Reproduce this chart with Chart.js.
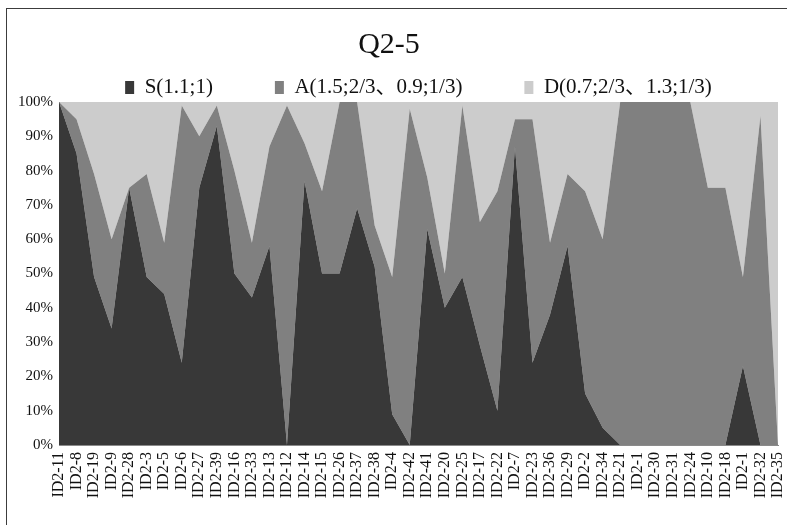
<!DOCTYPE html>
<html>
<head>
<meta charset="utf-8">
<title>Q2-5</title>
<script src="https://cdn.jsdelivr.net/npm/chart.js@4.4.1/dist/chart.umd.min.js"></script>
<style>
  body { margin: 0; background: #fff; }
  canvas { display: block; }
</style>
</head>
<body>
<canvas id="chart" width="787" height="525"></canvas>
<script>
const categories = ['ID2-11', 'ID2-8', 'ID2-19', 'ID2-9', 'ID2-28', 'ID2-3', 'ID2-5', 'ID2-6', 'ID2-27', 'ID2-39',
    'ID2-16', 'ID2-33', 'ID2-13', 'ID2-12', 'ID2-14', 'ID2-15', 'ID2-26', 'ID2-37', 'ID2-38', 'ID2-4',
    'ID2-42', 'ID2-41', 'ID2-20', 'ID2-25', 'ID2-17', 'ID2-22', 'ID2-7', 'ID2-23', 'ID2-36', 'ID2-29',
    'ID2-2', 'ID2-34', 'ID2-21', 'ID2-1', 'ID2-30', 'ID2-31', 'ID2-24', 'ID2-10', 'ID2-18', 'ID2-1',
    'ID2-32', 'ID2-35'];

// share of each answer type per respondent (%)
const sShare = [100, 85, 49, 34, 75, 49, 44, 24, 75, 93,
    50, 43, 58, 0, 77, 50, 50, 69, 52, 9,
    0, 63, 40, 49, 29, 10, 87, 24, 38, 58,
    15, 5, 0, 0, 0, 0, 0, 0, 0, 23,
    0, 0];
const aShare = [0, 10, 30, 26, 0, 30, 15, 75, 15, 6,
    30, 16, 29, 99, 11, 24, 50, 31, 12, 40,
    98, 15, 10, 50, 36, 64, 8, 71, 21, 21,
    59, 55, 100, 100, 100, 100, 100, 75, 75, 26,
    96, 0];
const dShare = [0, 5, 21, 40, 25, 21, 41, 1, 10, 1,
    20, 41, 13, 1, 12, 26, 0, 0, 36, 51,
    2, 22, 50, 1, 35, 26, 5, 5, 41, 21,
    26, 40, 0, 0, 0, 0, 0, 25, 25, 51,
    4, 100];

const seriesNames = ['S(1.1;1)', 'A(1.5;2/3、0.9;1/3)', 'D(0.7;2/3、1.3;1/3)'];
const yTicks = [0, 10, 20, 30, 40, 50, 60, 70, 80, 90, 100];

const serif = "'Liberation Serif', 'Noto Sans CJK JP', serif";
const axisGray = '#8a8a8a';

// thin frame round the whole chart
const framePlugin = {
    id: 'frame',
    beforeDraw(chart) {
        const c = chart.ctx;
        c.save();
        c.fillStyle = '#ffffff';
        c.fillRect(0, 0, chart.width, chart.height);
        c.strokeStyle = '#3c3c3c';
        c.lineWidth = 1;
        c.strokeRect(6.5, 8.5, chart.width + 20, chart.height + 20);
        c.restore();
    }
};

function area(label, data, color, fill) {
    return {
        label: label,
        data: data,
        backgroundColor: color,
        borderColor: color,
        borderWidth: 0,
        pointRadius: 0,
        pointHoverRadius: 0,
        tension: 0,
        fill: fill
    };
}

new Chart(document.getElementById('chart'), {
    type: 'line',
    data: {
        labels: categories,
        datasets: [
            area(seriesNames[0], sShare, '#383838', 'origin'),
            area(seriesNames[1], aShare, '#808080', '-1'),
            area(seriesNames[2], dShare, '#cccccc', '-1')
        ]
    },
    options: {
        responsive: false,
        devicePixelRatio: 1,
        animation: false,
        layout: { padding: { top: 0, left: 0, right: 9, bottom: 0 } },
        plugins: {
            title: {
                display: true,
                text: 'Q2-5',
                color: '#111',
                font: { family: serif, size: 30, weight: 'normal' },
                padding: { top: 27, bottom: -48 }
            },
            legend: {
                display: true,
                position: 'top',
                fullSize: false,
                maxHeight: 87,
                labels: {
                    color: '#111',
                    font: { family: serif, size: 21 },
                    boxWidth: 9,
                    boxHeight: 13,
                    padding: 62
                }
            },
            tooltip: { enabled: false }
        },
        scales: {
            x: {
                offset: false,
                grid: { display: false, drawTicks: false },
                border: { display: true, color: axisGray, width: 1 },
                ticks: {
                    autoSkip: false,
                    maxRotation: 90,
                    minRotation: 90,
                    padding: 7,
                    color: '#111',
                    font: { family: serif, size: 16 }
                },
                afterFit: function (scale) {
                    scale.height = 80;
                    // keep the plot running to the right edge of the frame
                    scale.paddingLeft = 0;
                    scale.paddingRight = 0;
                }
            },
            y: {
                stacked: true,
                min: 0,
                max: 100,
                grid: { display: false, drawTicks: false },
                border: { display: true, color: axisGray, width: 1 },
                afterBuildTicks: function (scale) {
                    scale.ticks = yTicks.map(v => ({ value: v }));
                },
                ticks: {
                    padding: 6,
                    color: '#111',
                    font: { family: serif, size: 15 },
                    callback: v => v + '%'
                },
                afterFit: function (scale) { scale.width = 59; }
            }
        }
    },
    plugins: [framePlugin]
});
</script>
</body>
</html>
